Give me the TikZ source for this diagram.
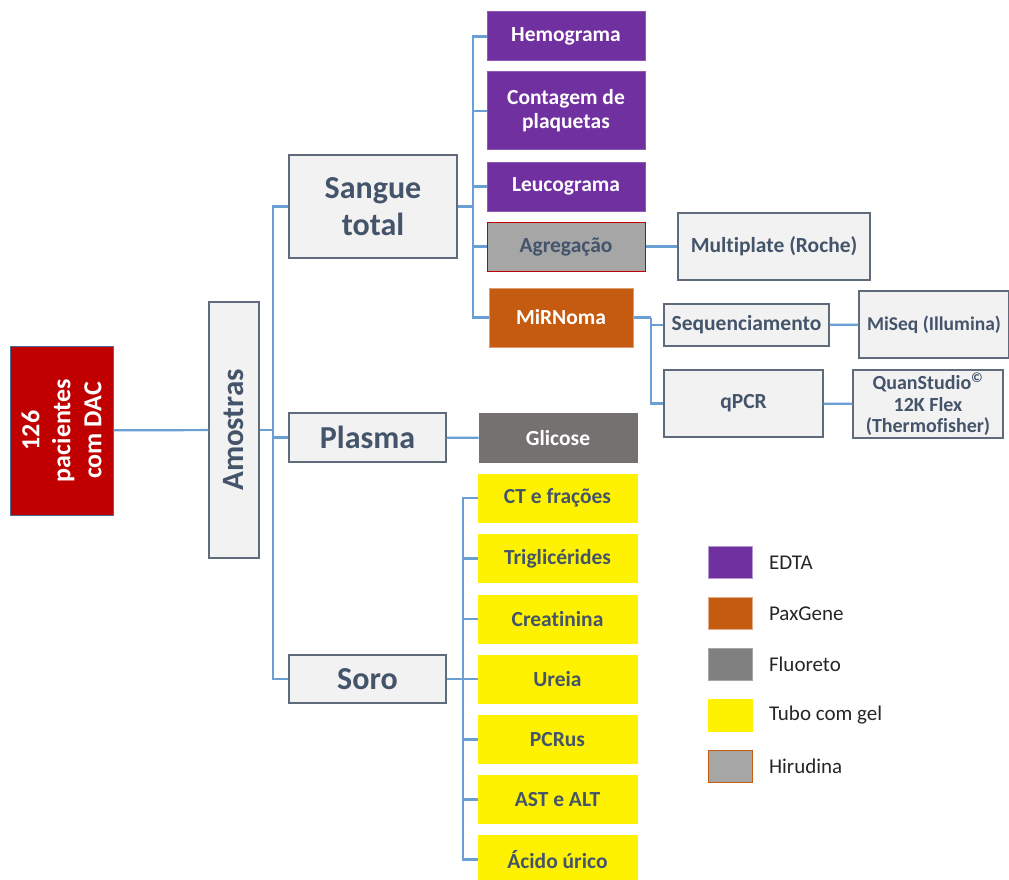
\documentclass[tikz,border=0pt]{standalone}
\usepackage{fontspec}
\setmainfont{Carlito}[Ligatures=NoCommon]
\usetikzlibrary{positioning}

\definecolor{txtblue}{HTML}{44546A}
\definecolor{linkblue}{HTML}{6A9FD4}
\definecolor{greyfill}{HTML}{F2F2F2}
\definecolor{greyline}{HTML}{5F6B7A}
\definecolor{redfill}{HTML}{C00000}
\definecolor{edta}{HTML}{7030A0}
\definecolor{paxgene}{HTML}{C55A11}
\definecolor{fluoreto}{HTML}{767171}
\definecolor{hirudina}{HTML}{A6A6A6}

\begin{document}
\begin{tikzpicture}[x=1pt, y=-1pt,
    greybox/.style={rectangle, draw=greyline, fill=greyfill, line width=1.2pt, text=txtblue, align=center, inner sep=2pt, font=\bfseries\fontsize{21.5}{23}\selectfont},
    bigbox/.style={greybox, font=\bfseries\fontsize{32}{37}\selectfont},
    tubebox/.style={rectangle, line width=1pt, align=center, inner sep=2pt, minimum width=158, minimum height=49, font=\bfseries\fontsize{21.5}{24}\selectfont},
    edtabox/.style={tubebox, fill=edta, draw=edta!80!white, text=white},
    gelbox/.style={tubebox, fill=yellow, draw=yellow, text=txtblue, minimum width=159, minimum height=48},
    legbox/.style={rectangle, line width=1pt, minimum width=44, minimum height=32},
    legtext/.style={text=black!85, font=\fontsize{21}{24}\selectfont, anchor=west},
    link/.style={draw=linkblue, line width=2.2pt}
]
\useasboundingbox (0,0) rectangle (1009,880);
\clip (0,0) rectangle (1009,880);

% Nodes
\node[rectangle, draw=linkblue!70!black, fill=redfill, text=white, line width=1pt, rotate=90, minimum width=169, minimum height=103, align=center, font=\bfseries\fontsize{26}{31}\selectfont] (pacientes) at (61.5,430.5) {126\\pacientes\\com DAC};
\node[greybox, rotate=90, minimum width=256, minimum height=50, font=\bfseries\fontsize{31}{33}\selectfont] (amostras) at (234,430) {Amostras};

\node[bigbox, minimum width=168, minimum height=103] (sangue) at (373,206.5) {Sangue\\total};
\node[greybox, minimum width=157, minimum height=49, font=\bfseries\fontsize{32}{34}\selectfont] (plasma) at (367.5,437.5) {Plasma};
\node[greybox, minimum width=157, minimum height=48, font=\bfseries\fontsize{32}{34}\selectfont] (soro) at (367.5,679) {Soro};

\node[edtabox] (hemograma) at (566,36.5) {Hemograma};
\node[edtabox, minimum height=78] (plaquetas) at (566,111) {Contagem de\\plaquetas};
\node[edtabox] (leucograma) at (566,186.5) {Leucograma};
\node[tubebox, fill=hirudina, draw=redfill, text=txtblue] (agregacao) at (566,246.5) {Agrega\c{c}\~ao};
\node[tubebox, fill=paxgene, draw=paxgene!60!white, text=white, minimum width=144, minimum height=59] (mirnoma) at (561,317.5) {MiRNoma};

\node[greybox, minimum width=192, minimum height=67] (multiplate) at (774,246.5) {Multiplate (Roche)};
\node[greybox, minimum width=165, minimum height=42] (sequenciamento) at (746.5,325) {Sequenciamento};
\node[greybox, minimum width=159, minimum height=67] (qpcr) at (743.5,403.5) {qPCR};
\node[greybox, minimum width=150, minimum height=67, inner sep=0pt, font=\bfseries\fontsize{19.5}{21}\selectfont] (miseq) at (934,324.5) {MiSeq (Illumina)};
\node[greybox, minimum width=150, minimum height=68, inner sep=0pt, font=\bfseries\fontsize{20}{21.5}\selectfont] (quanstudio) at (928,404) {QuanStudio\textsuperscript{\textcopyright}\\12K Flex\\(Thermofisher)};

\node[tubebox, fill=fluoreto, draw=fluoreto, text=white] (glicose) at (558,438) {Glicose};

\node[gelbox] (ct)        at (557.5,498)   {CT e fra\c{c}\~oes};
\node[gelbox] (trigli)    at (557.5,558.5) {Triglic\'erides};
\node[gelbox] (creat)     at (557.5,619)   {Creatinina};
\node[gelbox] (ureia)     at (557.5,679)   {Ureia};
\node[gelbox] (pcrus)     at (557.5,739.5) {PCRus};
\node[gelbox] (astalt)    at (557.5,799.5) {AST e ALT};
\node[gelbox] (acido)     at (557.5,859.5) {\'Acido \'urico};

% Legend
\node[legbox, fill=edta, draw=edta!50!white] (legEdta) at (730,562.5) {};
\node[legbox, fill=paxgene, draw=paxgene!50!white] (legPax) [below=18pt of legEdta] {};
\node[legbox, fill=black!50, draw=black!35] (legFluor) [below=18pt of legPax] {};
\node[legbox, fill=yellow, draw=yellow] (legGel) [below=18pt of legFluor] {};
\node[legbox, fill=hirudina, draw=paxgene] (legHiru) [below=18pt of legGel] {};
\node[legtext] [right=13pt of legEdta]  {EDTA};
\node[legtext] [right=13pt of legPax]   {PaxGene};
\node[legtext] [right=13pt of legFluor] {Fluoreto};
\node[legtext] [right=13pt of legGel]   {Tubo com gel};
\node[legtext] [right=13pt of legHiru]  {Hirudina};

% Connectors
\coordinate (trunkA) at (273,430);
\coordinate (trunkS) at (473,206.5);
\coordinate (trunkM) at (651,317.5);
\coordinate (trunkSo) at (463,679);

\draw[link] (pacientes) -- (amostras);
\draw[link] (amostras) -- (trunkA);
\draw[link] (trunkA) |- (sangue);
\draw[link] (trunkA) |- (plasma);
\draw[link] (trunkA) |- (soro);

\draw[link] (sangue) -- (trunkS);
\draw[link] (trunkS) |- (hemograma);
\draw[link] (trunkS) |- (plaquetas);
\draw[link] (trunkS) |- (leucograma);
\draw[link] (trunkS) |- (agregacao);
\draw[link] (trunkS) |- (mirnoma);

\draw[link] (agregacao) -- (multiplate);
\draw[link] (mirnoma) -- (trunkM);
\draw[link] (trunkM) |- (sequenciamento);
\draw[link] (trunkM) |- (qpcr);
\draw[link] (sequenciamento) -- (miseq);
\draw[link] (qpcr) -- (quanstudio);

\draw[link] (plasma) -- (glicose);

\draw[link] (soro) -- (trunkSo);
\draw[link] (trunkSo) |- (ct);
\draw[link] (trunkSo) |- (trigli);
\draw[link] (trunkSo) |- (creat);
\draw[link] (trunkSo) |- (ureia);
\draw[link] (trunkSo) |- (pcrus);
\draw[link] (trunkSo) |- (astalt);
\draw[link] (trunkSo) |- (acido);

\end{tikzpicture}
\end{document}
